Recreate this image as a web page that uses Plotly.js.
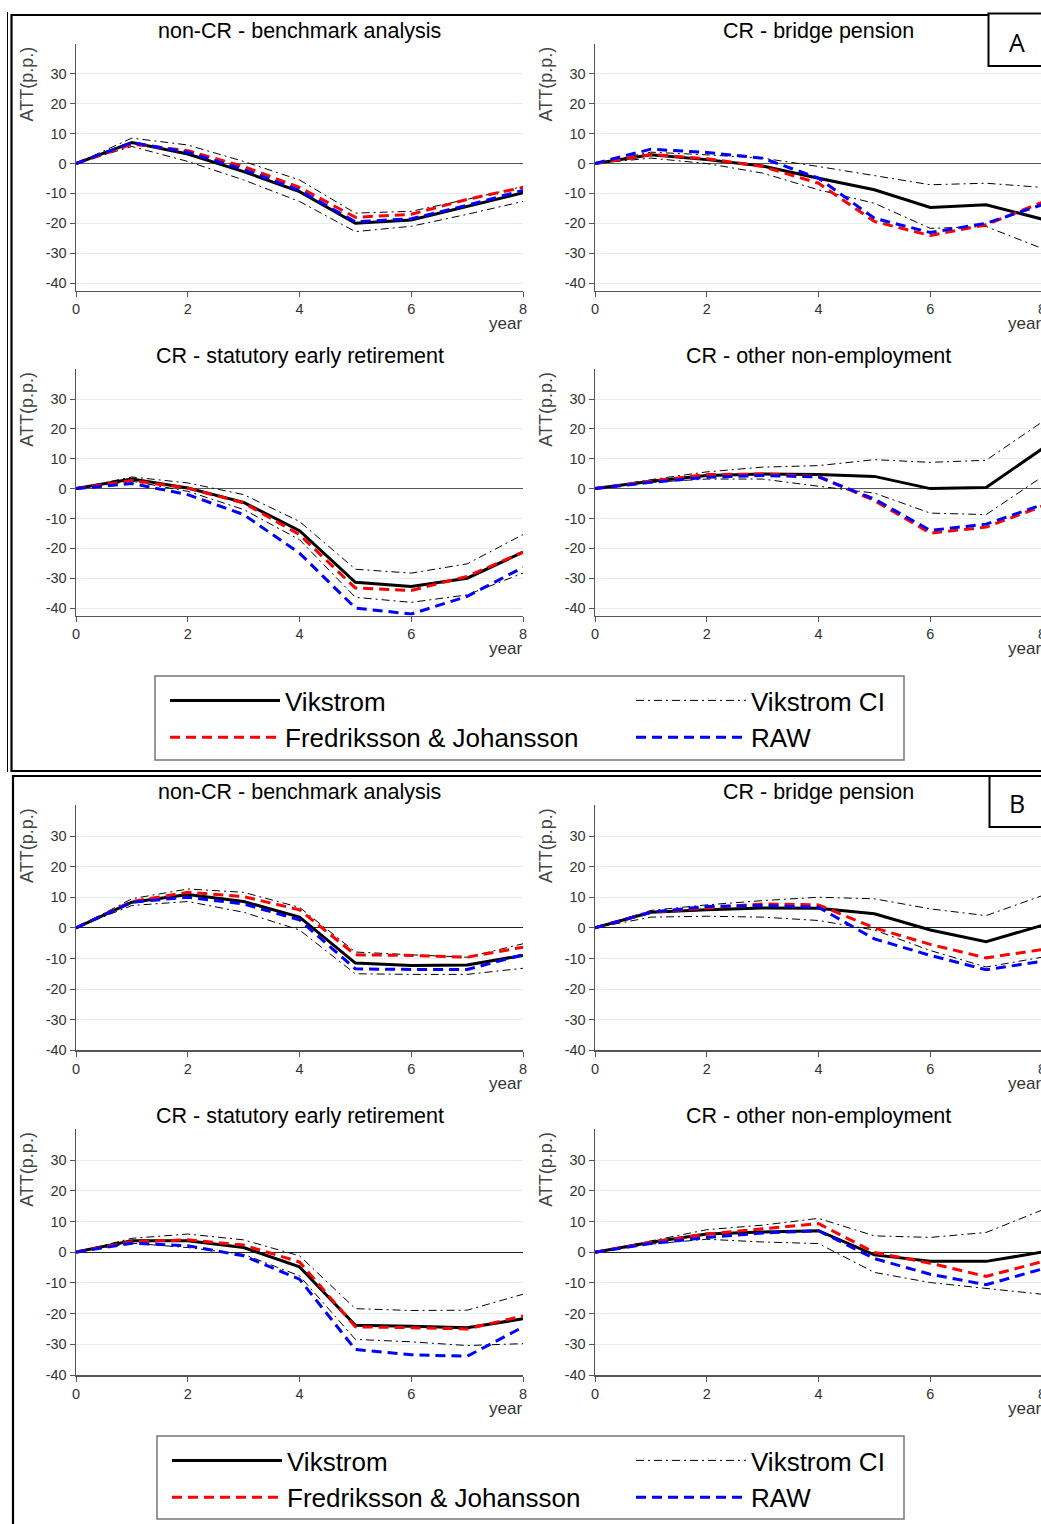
<!DOCTYPE html>
<html>
<head>
<meta charset="utf-8">
<script src="https://cdn.plot.ly/plotly-3.0.1.min.js"></script>
<style>
html,body{margin:0;padding:0;background:#fff;overflow:hidden;width:1041px;height:1524px;}
#chart{width:1050px;height:1524px;}
</style>
</head>
<body>
<div id="chart"></div>
<script>
// ---------- data ----------
const years = [0, 1, 2, 3, 4, 5, 6, 7, 8];
const xTicks = [0, 2, 4, 6, 8];
const yTicks = [-40, -30, -20, -10, 0, 10, 20, 30];
const yTickText = ["-40", "-30", "-20", "-10", "0", "10", "20", "30"];
const panelTitles = ["non-CR - benchmark analysis", "CR - bridge pension", "CR - statutory early retirement", "CR - other non-employment"];
const seriesNames = ["Vikstrom", "Vikstrom CI", "Fredriksson & Johansson", "RAW"];

// Panel A
const aBenchVik = [0, 7.0, 3.2, -2.7, -9.4, -20.0, -18.9, -14.4, -9.8];
const aBenchFJ  = [0, 6.5, 4.3, -1.0, -8.0, -18.0, -17.0, -12.0, -8.0];
const aBenchRaw = [0, 7.0, 3.8, -2.0, -9.0, -19.5, -18.5, -14.0, -9.0];
const aBenchHi  = [0, 8.5, 6.2, 0.7, -5.5, -16.6, -16.0, -12.0, -7.7];
const aBenchLo  = [0, 5.7, 0.7, -5.5, -12.7, -22.8, -21.0, -17.0, -12.7];

const aBridgeVik = [0, 2.9, 1.3, -0.8, -4.9, -8.8, -14.7, -13.8, -18.6];
const aBridgeFJ  = [0, 3.0, 1.6, -1.0, -6.6, -19.4, -24.1, -20.5, -13.0];
const aBridgeRaw = [0, 4.8, 3.7, 1.8, -4.9, -18.3, -23.1, -20.0, -13.8];
const aBridgeHi  = [0, 3.8, 2.9, 1.8, -1.0, -4.1, -7.1, -6.6, -8.0];
const aBridgeLo  = [0, 1.8, 0.0, -3.2, -8.8, -13.3, -21.7, -21.1, -28.4];

const aStatVik = [0, 3.2, 0.2, -4.6, -14.1, -31.4, -32.8, -30.0, -21.3];
const aStatFJ  = [0, 2.7, 0.2, -4.8, -15.4, -33.3, -34.1, -29.4, -21.3];
const aStatRaw = [0, 1.7, -2.0, -8.7, -21.6, -40.0, -42.0, -36.1, -26.4];
const aStatHi  = [0, 3.9, 1.9, -2.0, -11.0, -27.0, -28.3, -25.2, -15.4];
const aStatLo  = [0, 2.5, -0.9, -7.0, -17.1, -36.4, -38.1, -35.6, -28.3];

const aOtherVik = [0, 2.5, 4.4, 4.9, 4.7, 4.1, 0.0, 0.4, 13.3];
const aOtherFJ  = [0, 2.5, 4.7, 4.9, 4.1, -4.0, -14.9, -12.9, -5.9];
const aOtherRaw = [0, 2.1, 3.8, 4.4, 3.9, -3.5, -14.0, -11.9, -5.4];
const aOtherHi  = [0, 3.0, 5.6, 7.2, 7.7, 9.7, 8.8, 9.5, 22.3];
const aOtherLo  = [0, 2.1, 3.2, 3.2, 0.8, -1.5, -8.2, -8.7, 3.9];

// Panel B
const bBenchVik = [0, 8.4, 10.9, 8.6, 3.5, -11.5, -12.3, -12.1, -9.0];
const bBenchFJ  = [0, 8.6, 11.6, 10.2, 5.9, -8.8, -9.0, -9.6, -6.3];
const bBenchRaw = [0, 8.4, 10.0, 7.8, 2.6, -13.4, -13.6, -13.6, -8.8];
const bBenchHi  = [0, 9.5, 12.7, 11.6, 6.7, -7.9, -8.8, -9.6, -5.2];
const bBenchLo  = [0, 7.3, 8.6, 5.1, -0.7, -15.0, -15.2, -15.2, -13.2];

const bBridgeVik = [0, 5.1, 5.9, 6.5, 6.4, 4.6, -0.7, -4.5, 0.8];
const bBridgeFJ  = [0, 5.1, 6.5, 7.8, 7.5, 0.0, -5.4, -9.8, -7.1];
const bBridgeRaw = [0, 5.1, 7.0, 7.3, 6.7, -3.6, -9.0, -13.7, -10.9];
const bBridgeHi  = [0, 5.7, 7.5, 8.9, 10.0, 9.5, 6.2, 4.0, 10.5];
const bBridgeLo  = [0, 3.5, 3.8, 3.5, 2.4, -0.7, -7.4, -12.8, -9.6];

const bStatVik = [0, 3.7, 3.7, 1.5, -4.8, -23.8, -24.1, -24.6, -21.7];
const bStatFJ  = [0, 3.4, 4.0, 2.3, -3.2, -24.3, -24.6, -25.0, -20.8];
const bStatRaw = [0, 2.9, 2.1, -1.2, -8.8, -31.7, -33.4, -33.9, -24.4];
const bStatHi  = [0, 4.5, 5.9, 4.0, -1.2, -18.4, -19.0, -18.9, -13.7];
const bStatLo  = [0, 2.9, 1.5, -0.7, -7.7, -28.4, -29.2, -30.4, -29.8];

const bOtherVik = [0, 3.2, 5.9, 6.6, 7.0, -0.9, -3.0, -3.0, 0.0];
const bOtherFJ  = [0, 3.2, 5.9, 7.5, 9.3, -0.1, -3.6, -7.9, -3.1];
const bOtherRaw = [0, 2.8, 4.8, 6.2, 7.0, -2.1, -7.2, -10.6, -5.5];
const bOtherHi  = [0, 3.7, 7.3, 8.8, 11.0, 5.3, 4.8, 6.4, 13.7];
const bOtherLo  = [0, 2.6, 4.2, 3.3, 2.8, -6.6, -9.9, -11.8, -13.7];

// ---------- layout helpers ----------
const W = 1050, H = 1524;
const px = v => v / W;
const py = v => 1 - v / H;

const subplots = [
  // panel A
  {vik: aBenchVik, fj: aBenchFJ, raw: aBenchRaw, hi: aBenchHi, lo: aBenchLo, title: panelTitles[0], col: 0, top: 44, bot: 290.5, range: [-42.5, 40], legs: ['legend', 'legend3'], showLeg: true, zc: '#555', zw: 1.6},
  {vik: aBridgeVik, fj: aBridgeFJ, raw: aBridgeRaw, hi: aBridgeHi, lo: aBridgeLo, title: panelTitles[1], col: 1, top: 44, bot: 290.5, range: [-42.5, 40], legs: ['legend', 'legend3'], showLeg: false, zc: '#555', zw: 1.6},
  {vik: aStatVik, fj: aStatFJ, raw: aStatRaw, hi: aStatHi, lo: aStatLo, title: panelTitles[2], col: 0, top: 369.2, bot: 615.5, range: [-42.5, 40], legs: ['legend', 'legend3'], showLeg: false, zc: '#555', zw: 1.6},
  {vik: aOtherVik, fj: aOtherFJ, raw: aOtherRaw, hi: aOtherHi, lo: aOtherLo, title: panelTitles[3], col: 1, top: 369.2, bot: 615.5, range: [-42.5, 40], legs: ['legend', 'legend3'], showLeg: false, zc: '#555', zw: 1.6},
  // panel B
  {vik: bBenchVik, fj: bBenchFJ, raw: bBenchRaw, hi: bBenchHi, lo: bBenchLo, title: panelTitles[0], col: 0, top: 805.4, bot: 1050.3, range: [-40, 40], legs: ['legend2', 'legend4'], showLeg: true, zc: '#222', zw: 1},
  {vik: bBridgeVik, fj: bBridgeFJ, raw: bBridgeRaw, hi: bBridgeHi, lo: bBridgeLo, title: panelTitles[1], col: 1, top: 805.4, bot: 1050.3, range: [-40, 40], legs: ['legend2', 'legend4'], showLeg: false, zc: '#222', zw: 1},
  {vik: bStatVik, fj: bStatFJ, raw: bStatRaw, hi: bStatHi, lo: bStatLo, title: panelTitles[2], col: 0, top: 1129.3, bot: 1375, range: [-40, 40], legs: ['legend2', 'legend4'], showLeg: false, zc: '#222', zw: 1},
  {vik: bOtherVik, fj: bOtherFJ, raw: bOtherRaw, hi: bOtherHi, lo: bOtherLo, title: panelTitles[3], col: 1, top: 1129.3, bot: 1375, range: [-40, 40], legs: ['legend2', 'legend4'], showLeg: false, zc: '#222', zw: 1}
];
const colX = [[76, 523], [595, 1042]];

const FONT = 'Liberation Sans, Arial, sans-serif';
const traces = [];
const layout = {
  width: W, height: H,
  margin: {l: 0, r: 0, t: 0, b: 0, autoexpand: false},
  paper_bgcolor: '#fff', plot_bgcolor: '#fff',
  font: {family: FONT, color: '#000'},
  showlegend: true,
  annotations: [], shapes: []
};

const ciDash = '8px,4px,2px,4px';

subplots.forEach((s, i) => {
  const n = i + 1;
  const xa = n === 1 ? 'x' : 'x' + n;
  const ya = n === 1 ? 'y' : 'y' + n;
  const xk = n === 1 ? 'xaxis' : 'xaxis' + n;
  const yk = n === 1 ? 'yaxis' : 'yaxis' + n;
  const base = {x: years, xaxis: xa, yaxis: ya, mode: 'lines', hoverinfo: 'x+y+name'};
  traces.push(Object.assign({}, base, {y: s.vik, name: seriesNames[0], legend: s.legs[0], line: {color: '#000', width: 3}, showlegend: s.showLeg, legendrank: 1}));
  traces.push(Object.assign({}, base, {y: s.hi, name: seriesNames[1], legend: s.legs[1], line: {color: '#000', width: 1, dash: ciDash}, showlegend: s.showLeg, legendrank: 1}));
  traces.push(Object.assign({}, base, {y: s.lo, name: seriesNames[1], legend: s.legs[1], line: {color: '#000', width: 1, dash: ciDash}, showlegend: false}));
  traces.push(Object.assign({}, base, {y: s.fj, name: seriesNames[2], legend: s.legs[0], line: {color: '#ff0000', width: 3, dash: '10px,6px'}, showlegend: s.showLeg, legendrank: 2}));
  traces.push(Object.assign({}, base, {y: s.raw, name: seriesNames[3], legend: s.legs[1], line: {color: '#0000ff', width: 3, dash: '10px,6px'}, showlegend: s.showLeg, legendrank: 2}));

  const [xl, xr] = colX[s.col];
  layout[xk] = {
    domain: [px(xl), px(xr)], anchor: ya, range: [0, 8], tickvals: xTicks,
    showline: true, linecolor: '#555', linewidth: 1.5, ticks: 'outside', ticklen: 5, tickcolor: '#555',
    showgrid: false, zeroline: false, tickfont: {size: 14.5, color: '#333', family: FONT}
  };
  layout[yk] = {
    domain: [py(s.bot), py(s.top)], anchor: xa, range: s.range, tickvals: yTicks, ticktext: yTickText,
    showline: true, linecolor: '#555', linewidth: 1.5, ticks: 'outside', ticklen: 5, tickcolor: '#555',
    showgrid: true, gridcolor: '#e4eef0', gridwidth: 1,
    zeroline: true, zerolinecolor: s.zc, zerolinewidth: s.zw,
    tickfont: {size: 14.5, color: '#333', family: FONT}
  };
  // subplot title
  layout.annotations.push({text: s.title, xref: 'paper', yref: 'paper', x: px((xl + xr) / 2), y: py(s.top - 13), xanchor: 'center', yanchor: 'middle', showarrow: false, font: {size: 21.5, color: '#000', family: FONT}});
  // y axis title (top-aligned, as in original)
  layout.annotations.push({text: 'ATT(p.p.)', textangle: -90, xref: 'paper', yref: 'paper', x: px(xl - 49), y: py(s.top + 1), xanchor: 'center', yanchor: 'top', showarrow: false, font: {size: 18, color: '#444', family: FONT}});
  // x axis title
  layout.annotations.push({text: 'year', xref: 'paper', yref: 'paper', x: px(xr + 1), y: py(s.bot + 33), xanchor: 'right', yanchor: 'middle', showarrow: false, font: {size: 17, color: '#333', family: FONT}});
});

// legends (two columns per panel, boxed by a frame shape)
const legendBase = {
  orientation: 'v', xanchor: 'left', yanchor: 'top',
  bgcolor: 'rgba(0,0,0,0)', borderwidth: 0,
  font: {size: 26, color: '#000', family: FONT},
  itemwidth: 110, traceorder: 'normal'
};
layout.legend  = Object.assign({}, legendBase, {x: px(165), y: py(677)});
layout.legend3 = Object.assign({}, legendBase, {x: px(631), y: py(677)});
layout.legend2 = Object.assign({}, legendBase, {x: px(167), y: py(1437)});
layout.legend4 = Object.assign({}, legendBase, {x: px(631), y: py(1437)});
layout.shapes.push({type: 'rect', xref: 'paper', yref: 'paper', x0: px(155), x1: px(904), y0: py(676), y1: py(760), line: {color: '#777', width: 1.5}, layer: 'below'});
layout.shapes.push({type: 'rect', xref: 'paper', yref: 'paper', x0: px(157), x1: px(904), y0: py(1436), y1: py(1519), line: {color: '#777', width: 1.5}, layer: 'below'});

// panel frames
layout.shapes.push({type: 'line', xref: 'paper', yref: 'paper', x0: px(7.5), x1: px(7.5), y0: py(12), y1: py(772), line: {color: '#000', width: 1}});
layout.shapes.push({type: 'rect', xref: 'paper', yref: 'paper', x0: px(11.5), x1: px(1070), y0: py(15), y1: py(771), line: {color: '#000', width: 2.2}, layer: 'below'});
layout.shapes.push({type: 'rect', xref: 'paper', yref: 'paper', x0: px(13), x1: px(1070), y0: py(776), y1: py(1540), line: {color: '#000', width: 2.2}, layer: 'below'});
// panel labels
layout.shapes.push({type: 'rect', xref: 'paper', yref: 'paper', x0: px(988.5), x1: px(1070), y0: py(13.5), y1: py(66), line: {color: '#000', width: 2}, fillcolor: '#fff', layer: 'above'});
layout.shapes.push({type: 'rect', xref: 'paper', yref: 'paper', x0: px(989.5), x1: px(1070), y0: py(776), y1: py(827), line: {color: '#000', width: 2}, fillcolor: '#fff', layer: 'above'});
layout.annotations.push({text: 'A', xref: 'paper', yref: 'paper', x: px(1017), y: py(42), xanchor: 'center', yanchor: 'middle', showarrow: false, font: {size: 25, color: '#000', family: 'Open Sans, Noto Sans, sans-serif'}});
layout.annotations.push({text: 'B', xref: 'paper', yref: 'paper', x: px(1017), y: py(803), xanchor: 'center', yanchor: 'middle', showarrow: false, font: {size: 25, color: '#000', family: 'Open Sans, Noto Sans, sans-serif'}});

Plotly.newPlot('chart', traces, layout, {staticPlot: true, displayModeBar: false});
</script>
</body>
</html>
